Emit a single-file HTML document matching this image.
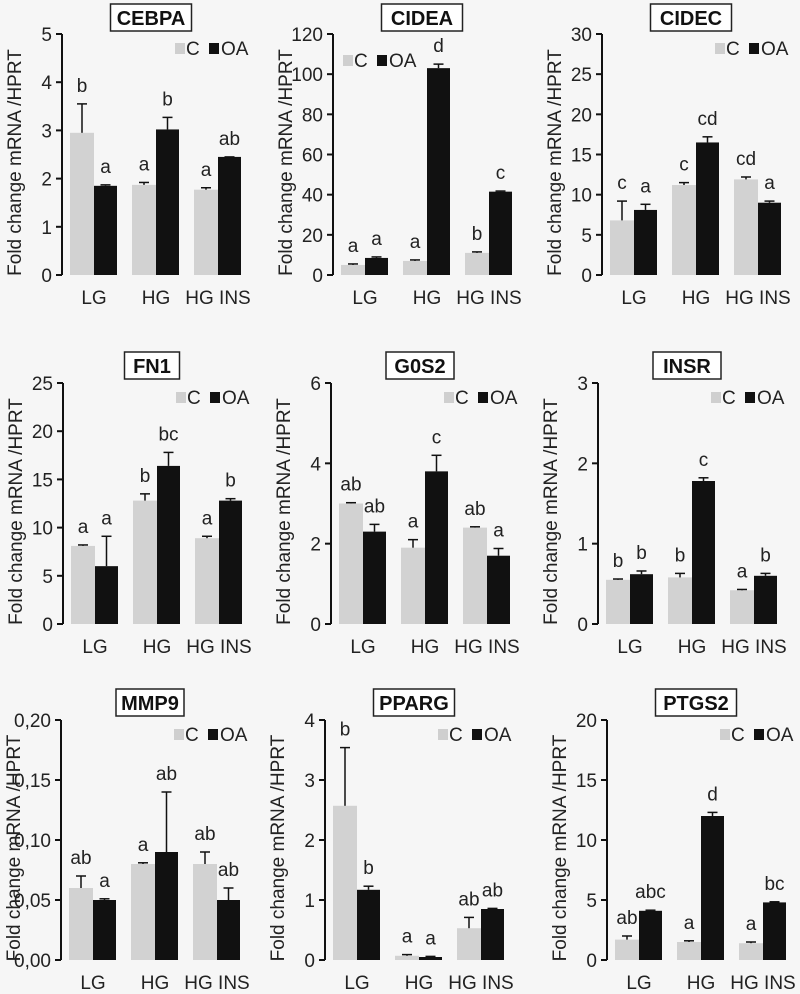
<!DOCTYPE html>
<html><head><meta charset="utf-8"><style>
html,body{margin:0;padding:0;background:#f6f6f6;}
svg{display:block;font-family:"Liberation Sans",sans-serif;}
</style></head><body>
<svg id="fig" width="800" height="994" viewBox="0 0 800 994" xmlns="http://www.w3.org/2000/svg">
<rect x="0" y="0" width="800" height="994" fill="#f6f6f6"/>
</svg>
<script>
const genes = ["CEBPA","CIDEA","CIDEC","FN1","G0S2","INSR","MMP9","PPARG","PTGS2"];
const categories = ["LG","HG","HG INS"];
const yMax = [5,120,30,25,6,3,0.2,4,20];
const yStep = [1,20,5,5,2,1,0.05,1,5];
const cValues = [[2.95,1.87,1.77],[5,7,11],[6.8,11.2,11.9],[8.1,12.8,8.9],[3,1.9,2.4],[0.55,0.58,0.42],[0.06,0.08,0.08],[2.57,0.07,0.53],[1.7,1.5,1.4]];
const cErrors = [[0.6,0.05,0.04],[0.5,0.5,0.5],[2.4,0.3,0.3],[0.1,0.7,0.2],[0.02,0.2,0.02],[0.01,0.05,0.01],[0.01,0.001,0.01],[0.97,0.02,0.18],[0.3,0.1,0.1]];
const oaValues = [[1.85,3.02,2.45],[8.5,103,41.5],[8.1,16.5,9],[6,16.4,12.8],[2.3,3.8,1.7],[0.62,1.78,0.6],[0.05,0.09,0.05],[1.17,0.05,0.85],[4.1,12,4.8]];
const oaErrors = [[0.02,0.25,0],[0.5,2,0.3],[0.7,0.7,0.2],[3.1,1.4,0.2],[0.18,0.4,0.18],[0.04,0.04,0.03],[0.001,0.05,0.01],[0.06,0.01,0.01],[0.05,0.3,0.05]];
const cLetters = [["b","a","a"],["a","a","b"],["c","c","cd"],["a","b","a"],["ab","a","ab"],["b","b","a"],["ab","a","ab"],["b","a","ab"],["ab","a","a"]];
const oaLetters = [["a","b","ab"],["a","d","c"],["a","cd","a"],["a","bc","b"],["ab","c","a"],["b","c","b"],["a","ab","ab"],["b","a","ab"],["abc","d","bc"]];
const decimals = [0,0,0,0,0,0,2,0,0];

const axisX = [62,333,602,63,331,598,61,325,607];
const rowTop = [34,383,720];
const rowZero = [275,624,960];
const titleY = [17,365,702];
const NS = "http://www.w3.org/2000/svg";
const svg = document.getElementById('fig');
function mk(tag, attrs, parent){const e=document.createElementNS(NS,tag);for(const k in attrs)e.setAttribute(k,attrs[k]);(parent||svg).appendChild(e);return e;}

genes.forEach((g,i)=>{
  const row=Math.floor(i/3), ax=axisX[i], top=rowTop[row], zero=rowZero[row];
  const grp=mk('g',{});
  
  
  const y=v=>zero-(v/yMax[i])*(zero-top);
  const tw=g.length*13+16, tcx=ax+89;
  const tb=mk('rect',{x:tcx-tw/2,y:titleY[row]-13,width:tw,height:27,fill:'#fff',stroke:'#222','stroke-width':1.5},grp);
  
  
  const tt=mk('text',{x:tcx,y:titleY[row]+8,'text-anchor':'middle','font-size':20,'font-weight':'bold',fill:'#111'},grp);
  tt.textContent=g;
  
  
  const al=mk('line',{x1:ax,y1:top,x2:ax,y2:zero,stroke:'#111','stroke-width':2},grp);
  
  
  const n=Math.round(yMax[i]/yStep[i]);
  for(let k=0;k<=n;k++){
    const v=k*yStep[i], yy=y(v);
    mk('line',{x1:ax-6,y1:yy,x2:ax,y2:yy,stroke:'#111','stroke-width':2},grp);
    const lbl=mk('text',{x:ax-10,y:yy+7,'text-anchor':'end','font-size':19,fill:'#222'},grp);
    lbl.textContent=v.toFixed(decimals[i]).replace('.',',');
    
    
  }
  const yt=mk('text',{x:0,y:0,'text-anchor':'middle','font-size':19,fill:'#222',transform:`translate(${ax-41},${(top+zero)/2+8}) rotate(-90)`},grp);
  yt.textContent='Fold change mRNA /HPRT';
  
  
  categories.forEach((c,j)=>{
    const gx=ax+8+j*62;
    [[cValues,cErrors,cLetters,'#d2d2d2',gx,24,'c'],[oaValues,oaErrors,oaLetters,'#111',gx+24,23,'oa']].forEach(s=>{
      const v=s[0][i][j], e=s[1][i][j], bx=s[4], bw=s[5];
      const b=mk('rect',{x:bx,y:y(v),width:bw,height:zero-y(v),fill:s[3]},grp);
      
      
      const cx=bx+bw/2, et=y(v+e);
      mk('line',{x1:cx,y1:y(v),x2:cx,y2:et,stroke:'#111','stroke-width':1.5},grp);
      mk('line',{x1:cx-5,y1:et,x2:cx+5,y2:et,stroke:'#111','stroke-width':1.5},grp);
      const lt=mk('text',{x:cx,y:et-12,'text-anchor':'middle','font-size':19,fill:'#222'},grp);
      lt.textContent=s[2][i][j];
      
      
    });
    const cl=mk('text',{x:gx+24,y:zero+29,'text-anchor':'middle','font-size':19,fill:'#222'},grp);
    cl.textContent=c;
    
    
  });
  const lx = i===1 ? ax+10 : ax+113, ly = i===1 ? top+33 : top+21;
  const leg=mk('g',{},grp);
  
  
  mk('rect',{x:lx,y:ly-12,width:10,height:11,fill:'#cfcfcf'},leg);
  const t1=mk('text',{x:lx+11,y:ly,'font-size':19,fill:'#222'},leg); t1.textContent='C';
  mk('rect',{x:lx+34,y:ly-12,width:10,height:11,fill:'#111'},leg);
  const t2=mk('text',{x:lx+46,y:ly,'font-size':19,fill:'#222'},leg); t2.textContent='OA';
});
</script>
</body></html>
